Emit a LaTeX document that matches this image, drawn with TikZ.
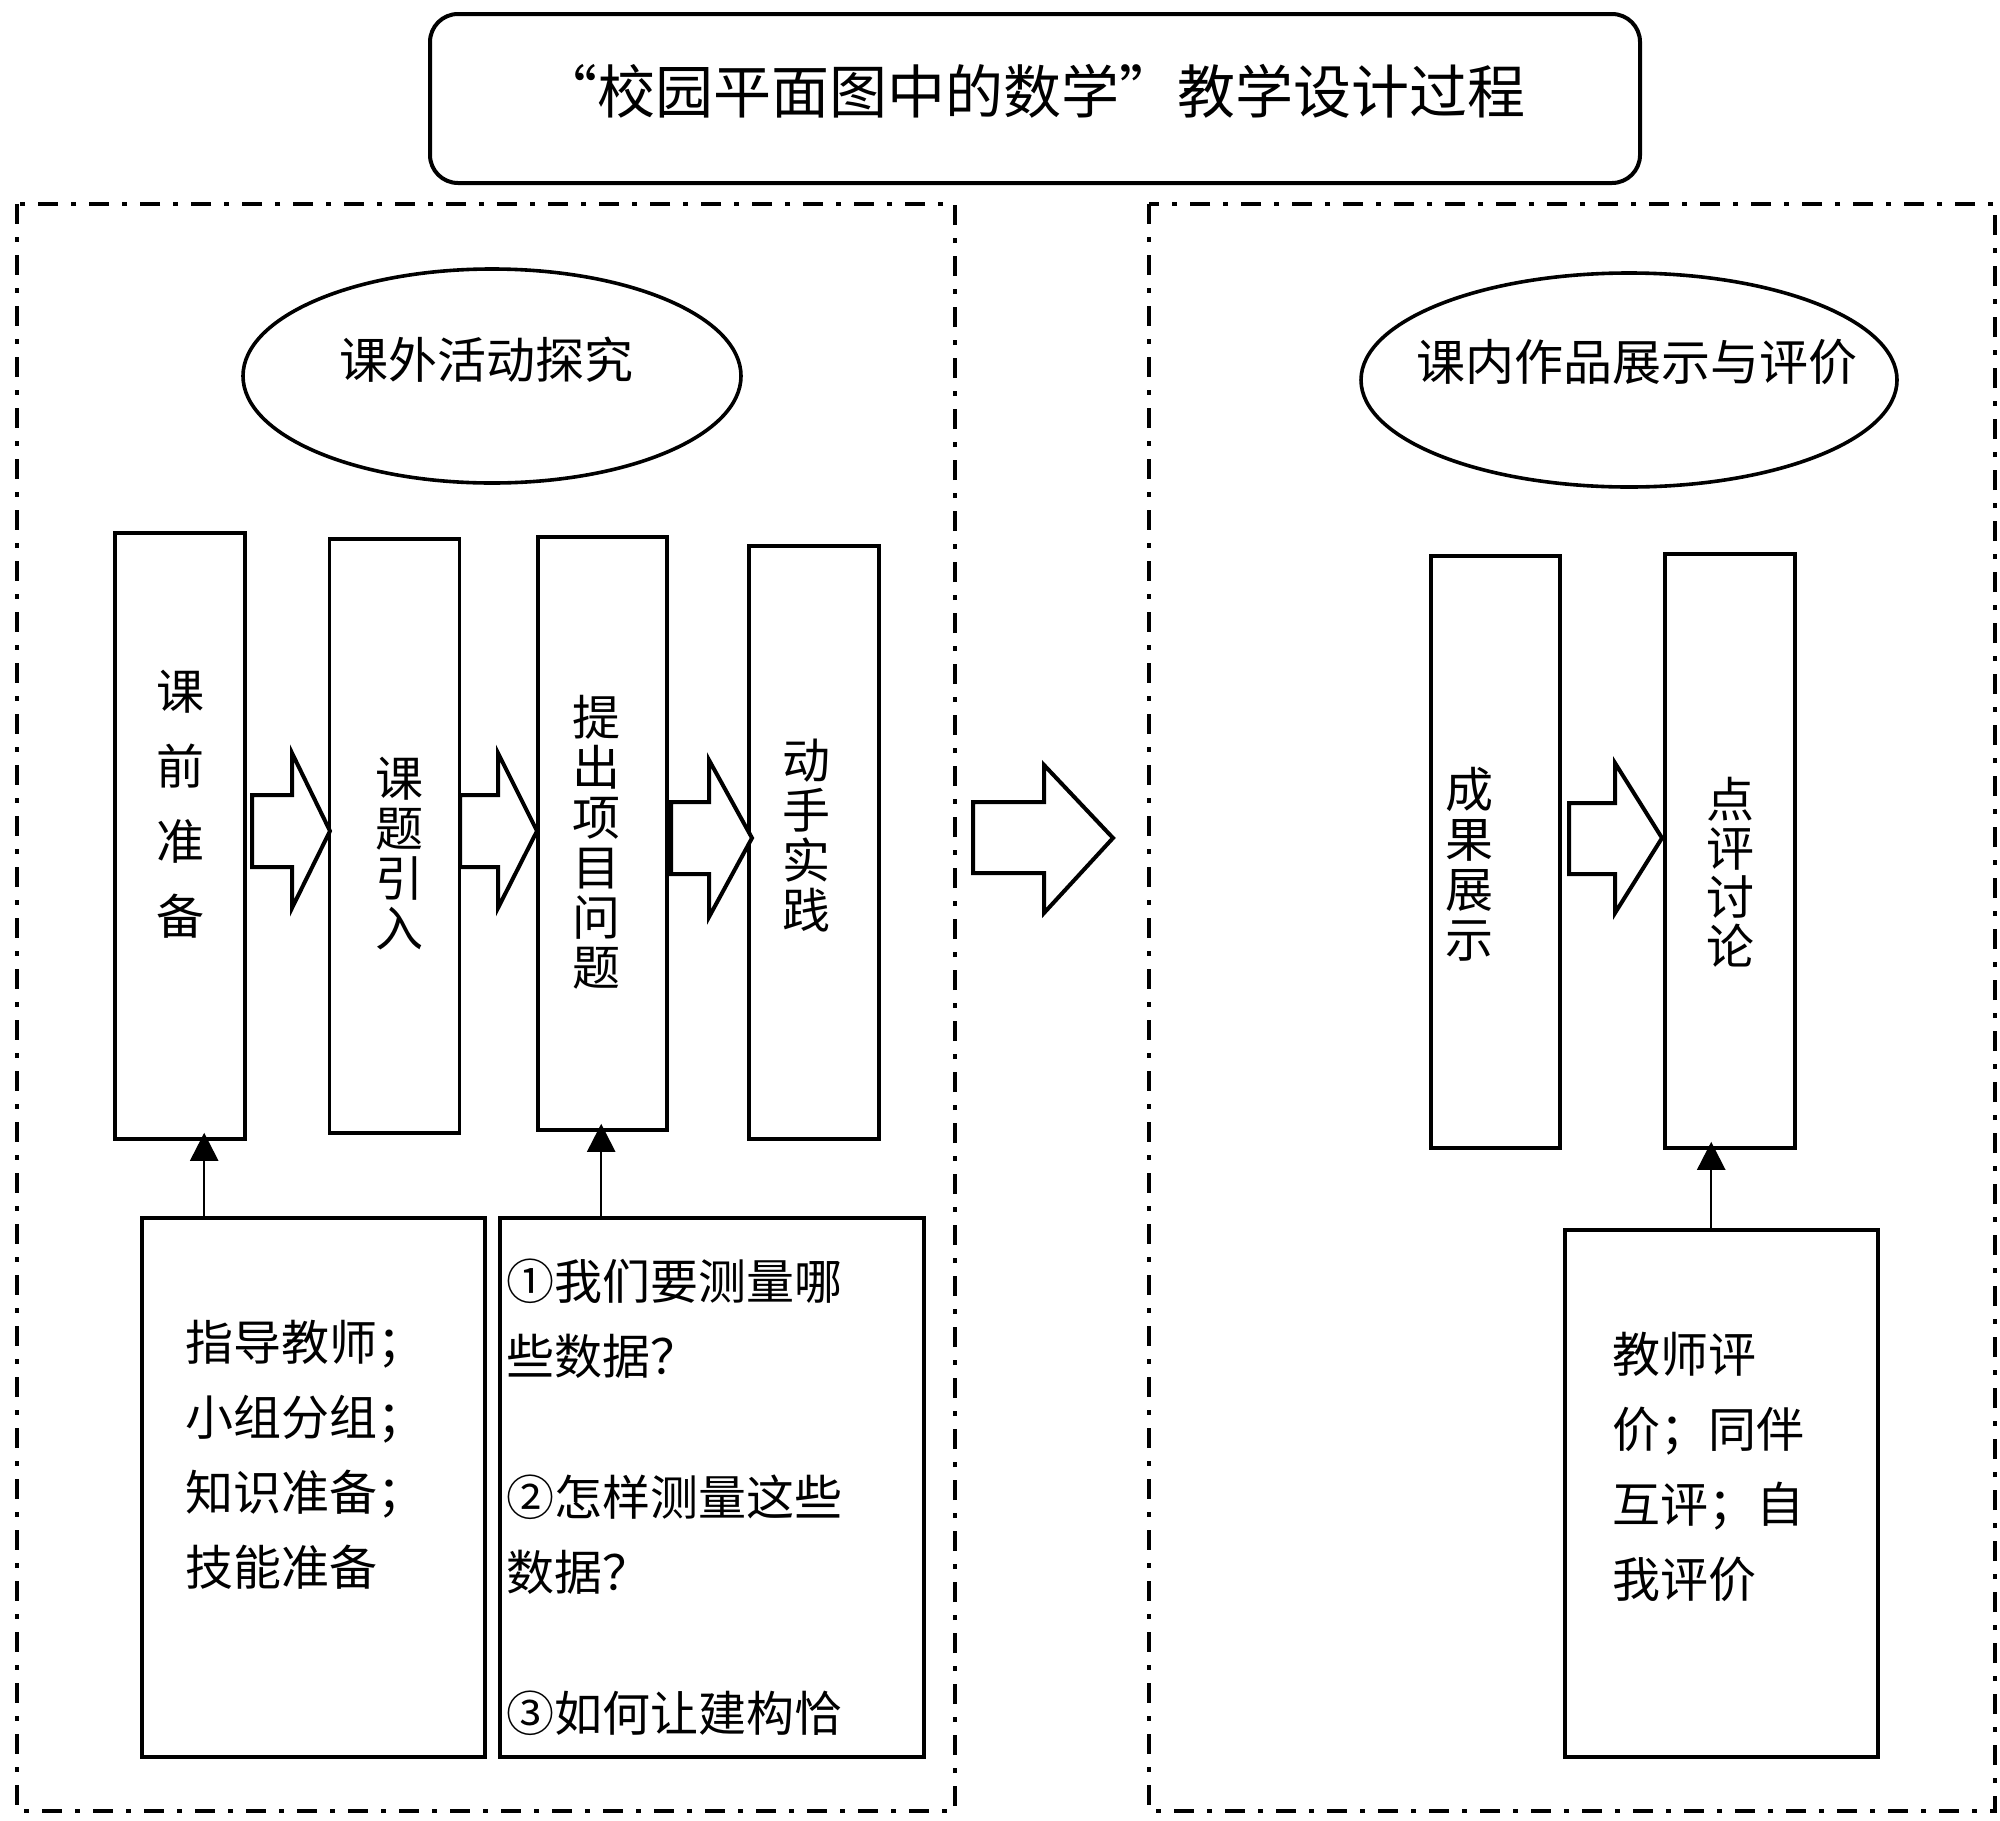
\documentclass[tikz,border=0pt]{standalone}
\usepackage{fontspec}
\setmainfont{Noto Sans CJK SC}
\usetikzlibrary{arrows.meta,shapes.geometric}
\begin{document}
\begin{tikzpicture}[x=0.5pt,y=-0.5pt,
  box/.style={draw, line width=1.8pt, inner sep=0pt, minimum width=65pt},
  vtext/.style={font=\fontsize{24pt}{25pt}\selectfont, align=center, inner sep=0pt},
  btext/.style={font=\fontsize{24pt}{37.5pt}\selectfont, align=left, inner sep=0pt, anchor=west},
  frame/.style={line width=2pt, dash pattern=on 10pt off 6.5pt on 2.5pt off 6.5pt},
  blockarrow/.style={draw, line width=2pt, line join=miter, fill=white},
  oval/.style={draw, ellipse, line width=1.8pt, inner sep=0pt, minimum height=107pt},
  conn/.style={line width=1.25pt, -{Triangle[width=14pt,length=14pt]}, shorten >=-4pt}]
\useasboundingbox (0,0) rectangle (2000,1820);
\fill[white] (0,0) rectangle (2000,1820);

% title
\node[draw, line width=2pt, rounded corners=14pt, minimum width=605pt, minimum height=84.5pt, inner sep=0pt,
  label={[font=\fontsize{29pt}{34pt}\selectfont, inner sep=0pt, xshift=-1.5pt, yshift=3.75pt]center:“校园平面图中的数学”教学设计过程}]
  (title) at (1035,98.5) {};

% frames
\draw[frame] (17,204) rectangle (955,1811);
\draw[frame] (1149,204) rectangle (1995,1811);

% ellipses
\node[oval, minimum width=249pt,
  label={[vtext, font=\fontsize{24.5pt}{30pt}\selectfont, xshift=-3pt, yshift=8pt]center:课外活动探究}]
  (out) at (492,376) {};
\node[oval, minimum width=268pt,
  label={[vtext, font=\fontsize{24.5pt}{30pt}\selectfont, xshift=4pt, yshift=9pt]center:课内作品展示与评价}]
  (in) at (1629,380) {};

% vertical boxes
\node[box, minimum height=303pt,
  label={[vtext, font=\fontsize{24pt}{37.5pt}\selectfont, yshift=16pt]center:课\\前\\准\\备}]
  (b1) at (180,836) {};
\node[box, minimum height=297pt,
  label={[vtext, xshift=2.25pt, yshift=-9pt]center:课\\题\\引\\入}]
  (b2) at (394.5,836) {};
\node[box, minimum width=64.5pt, minimum height=296.5pt,
  label={[vtext, xshift=-3.25pt, yshift=-4.25pt]center:提\\出\\项\\目\\问\\题}]
  (b3) at (602.5,833.5) {};
\node[box, minimum height=296.5pt,
  label={[vtext, xshift=-4pt, yshift=3.25pt]center:动\\手\\实\\践}]
  (b4) at (814,842.5) {};
\node[box, minimum width=64.5pt, minimum height=296pt,
  label={[vtext, xshift=-13pt, yshift=-6pt]center:成\\果\\展\\示}]
  (b5) at (1495.5,852) {};
\node[box, minimum height=297pt,
  label={[vtext, font=\fontsize{24pt}{24.5pt}\selectfont, yshift=-10.5pt]center:点\\评\\讨\\论}]
  (b6) at (1730,851) {};

% block arrows
\draw[blockarrow] (252,795) -- (292,795) -- (292,753) -- (330,831) -- (292,908) -- (292,867) -- (252,867) -- cycle;
\draw[blockarrow] (460,795) -- (498,795) -- (498,753) -- (537,831) -- (498,908) -- (498,867) -- (460,867) -- cycle;
\draw[blockarrow] (671,802) -- (709,802) -- (709,760) -- (752,838) -- (709,917) -- (709,874) -- (671,874) -- cycle;
\draw[blockarrow] (973,802) -- (1044,802) -- (1044,765) -- (1113,838) -- (1044,913) -- (1044,873) -- (973,873) -- cycle;
\draw[blockarrow] (1569,803) -- (1615,803) -- (1615,763) -- (1662,838) -- (1615,913) -- (1615,874) -- (1569,874) -- cycle;

% bottom boxes
\node[box, minimum width=171.5pt, minimum height=269.5pt] (n1) at (313.5,1487.5) {};
\node[btext] (t1) at (185,1455) {指导教师；\\小组分组；\\知识准备；\\技能准备};
\node[box, minimum width=212pt, minimum height=269.5pt] (n2) at (712,1487.5) {};
\node[btext] (t2) at (506,1497) {①我们要测量哪\\些数据？\\[33pt]②怎样测量这些\\数据？\\[33pt]③如何让建构恰};
\node[box, minimum width=156.5pt, minimum height=263.5pt] (n3) at (1721.5,1493.5) {};
\node[btext] (t3) at (1612,1467) {教师评\\价；同伴\\互评；自\\我评价};

% connectors
\draw[conn] ([xshift=32pt]n1.north west) -- ([xshift=32pt]n1.north west |- b1.south);
\draw[conn] ([xshift=51.5pt]n2.north west) -- ([xshift=51.5pt]n2.north west |- b3.south);
\draw[conn] ([xshift=74pt]n3.north west) -- ([xshift=74pt]n3.north west |- b6.south);
\end{tikzpicture}
\end{document}
